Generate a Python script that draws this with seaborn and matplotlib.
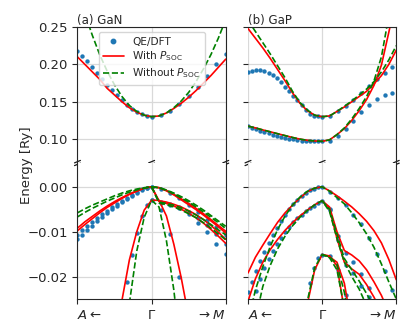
import numpy as np
import matplotlib.pyplot as plt
from matplotlib.lines import Line2D
import seaborn as sns

nan = np.nan

# path coordinate: -1 = towards A, 0 = Gamma, 1 = towards M
k_line = [-1.0, -0.9, -0.8, -0.7, -0.6, -0.5, -0.4, -0.3, -0.2, -0.1, 0.0,
          0.1, 0.2, 0.3, 0.4, 0.5, 0.6, 0.7, 0.8, 0.9, 1.0]
k_gan_dft = [-1.0, -0.933, -0.867, -0.8, -0.733, -0.667, -0.6, -0.533, -0.467, -0.4,
             -0.333, -0.267, -0.2, -0.133, -0.067, 0.0,
             0.125, 0.25, 0.375, 0.5, 0.625, 0.75, 0.875, 1.0]
k_gap_dft = [-1.0, -0.944, -0.889, -0.833, -0.778, -0.722, -0.667, -0.611, -0.556, -0.5,
             -0.444, -0.389, -0.333, -0.278, -0.222, -0.167, -0.111, -0.056, 0.0,
             0.105, 0.211, 0.316, 0.422, 0.527, 0.633, 0.738, 0.844, 0.949]

# ---------------- GaN (energies in Ry) ----------------
gan_dft_cb = [0.218, 0.211, 0.204, 0.196, 0.188, 0.180, 0.173, 0.166, 0.159, 0.153,
              0.146, 0.140, 0.136, 0.133, 0.1305, 0.130,
              0.1318, 0.1375, 0.147, 0.158, 0.170, 0.185, 0.200, 0.214]
gan_dft_hh = [-0.0107, -0.0097, -0.0088, -0.0079, -0.0070, -0.0061, -0.0053, -0.0045, -0.0038, -0.0031,
              -0.0024, -0.0018, -0.0012, -0.0006, -0.0002, 0.0,
              -0.0004, -0.0013, -0.0025, -0.0040, -0.0056, -0.0073, -0.0090, -0.0108]
gan_dft_lh = [-0.0117, -0.0107, -0.0097, -0.0087, -0.0077, -0.0068, -0.0059, -0.0050, -0.0042, -0.0034,
              -0.0027, -0.0020, -0.0013, -0.0007, -0.0002, 0.0,
              -0.0033, -0.0038, -0.0046, -0.0056, -0.0069, -0.0085, -0.0105, -0.0128]
gan_dft_lh2 = [nan, nan, nan, nan, nan, nan, nan, nan, nan, nan,
               nan, nan, nan, nan, nan, -0.0030,
               -0.0035, -0.0040, -0.0048, -0.0060, -0.0080, -0.0101, -0.0128, -0.0150]
gan_dft_ch = [nan, nan, nan, nan, nan, nan, nan, nan, nan, -0.0285,
              -0.0213, -0.0153, -0.0103, -0.0065, -0.0040, -0.0030,
              -0.0052, -0.0105, -0.0200, nan, nan, nan, nan, nan]

gan_red_cb = [0.210, 0.200, 0.190, 0.180, 0.168, 0.159, 0.150, 0.142, 0.136, 0.132, 0.130,
              0.131, 0.135, 0.141, 0.148, 0.156, 0.165, 0.175, 0.185, 0.196, 0.207]
gan_green_cb = [0.300, 0.268, 0.239, 0.213, 0.191, 0.1725, 0.157, 0.145, 0.137, 0.132, 0.130,
                0.131, 0.135, 0.142, 0.151, 0.1625, 0.177, 0.194, 0.213, 0.235, 0.260]
gan_red_hh1 = [-0.0092, -0.0078, -0.0066, -0.0054, -0.0043, -0.0033, -0.0024, -0.0016, -0.0009, -0.0003, 0.0,
               -0.0002, -0.0008, -0.0017, -0.0027, -0.0037, -0.0048, -0.0060, -0.0073, -0.0086, -0.0099]
gan_red_hh2 = [-0.0098, -0.0084, -0.0071, -0.0058, -0.0046, -0.0036, -0.0026, -0.0017, -0.0010, -0.0003, 0.0,
               -0.0002, -0.0009, -0.0018, -0.0029, -0.0040, -0.0051, -0.0063, -0.0076, -0.0089, -0.0103]
gan_red_lh1 = [nan, nan, nan, nan, nan, nan, nan, nan, nan, nan, 0.0,
               -0.0031, -0.0034, -0.0039, -0.0045, -0.0053, -0.0062, -0.0073, -0.0086, -0.0101, -0.0117]
gan_red_lh2 = [nan, nan, nan, nan, nan, nan, nan, nan, nan, nan, 0.0,
               -0.0033, -0.0037, -0.0043, -0.0050, -0.0059, -0.0069, -0.0081, -0.0095, -0.0110, -0.0126]
gan_red_ch = [nan, nan, nan, nan, nan, nan, -0.0253, -0.0163, -0.0100, -0.0052, -0.0030,
              -0.0030, -0.0065, -0.0128, -0.0203, -0.0290, nan, nan, nan, nan, nan]
gan_green_hh1 = [-0.0058, -0.0049, -0.0041, -0.0034, -0.0027, -0.0020, -0.0014, -0.0009, -0.0005, -0.0002, 0.0,
                 -0.0002, -0.0007, -0.0014, -0.0022, -0.0031, -0.0041, -0.0052, -0.0064, -0.0076, -0.0088]
gan_green_hh2 = [-0.0067, -0.0057, -0.0048, -0.0040, -0.0032, -0.0025, -0.0018, -0.0012, -0.0007, -0.0003, 0.0,
                 -0.0002, -0.0008, -0.0016, -0.0025, -0.0034, -0.0045, -0.0056, -0.0068, -0.0080, -0.0093]
gan_green_lh1 = [nan, nan, nan, nan, nan, nan, nan, nan, nan, nan, 0.0,
                 -0.0034, -0.0037, -0.0041, -0.0047, -0.0054, -0.0063, -0.0073, -0.0084, -0.0096, -0.0107]
gan_green_lh2 = [nan, nan, nan, nan, nan, nan, nan, nan, nan, nan, 0.0,
                 -0.0036, -0.0040, -0.0045, -0.0052, -0.0060, -0.0069, -0.0080, -0.0092, -0.0105, -0.0118]
gan_green_ch = [nan, nan, nan, nan, nan, nan, nan, -0.0260, -0.0143, -0.0068, -0.0030,
                -0.0045, -0.0120, -0.0230, -0.0380, nan, nan, nan, nan, nan, nan]

# ---------------- GaP ----------------
gap_dft_cb2 = [0.190, 0.1915, 0.1925, 0.1925, 0.191, 0.189, 0.186, 0.1815, 0.176, 0.170,
               0.164, 0.158, 0.152, 0.145, 0.139, 0.134, 0.1315, 0.1305, 0.130,
               0.1304, 0.137, 0.1447, 0.1527, 0.1616, 0.1713, 0.1807, 0.189, 0.197]
gap_dft_cb1 = [0.117, 0.115, 0.113, 0.111, 0.1095, 0.1075, 0.1056, 0.104, 0.1027, 0.1016,
               0.1005, 0.0995, 0.0985, 0.0978, 0.0974, 0.0971, 0.097, 0.097, 0.0968,
               0.098, 0.1038, 0.1136, 0.1238, 0.1358, 0.146, 0.154, 0.1593, 0.1616]
gap_dft_vb1 = [-0.0235, -0.0212, -0.0188, -0.0165, -0.0145, -0.0126, -0.0108, -0.0092, -0.0077, -0.0063,
               -0.0050, -0.0039, -0.0030, -0.0021, -0.0014, -0.0008, -0.0004, -0.0001, 0.0,
               -0.0011, -0.0025, -0.0040, -0.0062, -0.0084, -0.0114, -0.0150, -0.0187, -0.0230]
gap_dft_vb2 = [nan, -0.0262, -0.0232, -0.0206, -0.0182, -0.0161, -0.0143, -0.0127, -0.0113, -0.0100,
               -0.0089, -0.0079, -0.0070, -0.0062, -0.0055, -0.0048, -0.0042, -0.0036, -0.0031,
               -0.0049, -0.0110, -0.0148, -0.0168, -0.0195, -0.0225, nan, nan, nan]
gap_dft_vb2b = [nan, nan, nan, nan, nan, nan, nan, nan, nan, nan,
                nan, nan, nan, nan, nan, nan, nan, nan, nan,
                -0.0052, -0.0118, -0.0175, -0.0192, -0.0220, -0.0245, nan, nan, nan]
gap_dft_so = [nan, nan, nan, nan, nan, nan, nan, nan, nan, nan,
              nan, nan, nan, nan, nan, -0.0215, -0.0180, -0.0158, -0.0151,
              -0.0155, -0.0185, -0.0240, nan, nan, nan, nan, nan, nan]

gap_red_cb2 = [0.248, 0.235, 0.222, 0.208, 0.193, 0.178, 0.162, 0.148, 0.138, 0.132, 0.130,
               0.131, 0.137, 0.143, 0.150, 0.157, 0.164, 0.174, 0.185, 0.200, 0.219]
gap_green_cb2 = [0.259, 0.244, 0.229, 0.214, 0.198, 0.182, 0.164, 0.149, 0.139, 0.132, 0.130,
                 0.131, 0.137, 0.144, 0.151, 0.159, 0.167, 0.177, 0.190, 0.206, 0.225]
gap_red_cb1 = [0.1173, 0.1150, 0.1123, 0.1098, 0.1072, 0.1047, 0.1022, 0.1000, 0.0984, 0.0975, 0.0970,
               0.0990, 0.1060, 0.1140, 0.1250, 0.1380, 0.1530, 0.1720, 0.1990, 0.2430, 0.2900]
gap_green_cb1 = [0.1173, 0.1150, 0.1123, 0.1098, 0.1072, 0.1047, 0.1022, 0.1000, 0.0984, 0.0975, 0.0970,
                 0.0990, 0.1060, 0.1150, 0.1270, 0.1410, 0.1570, 0.1780, 0.2100, 0.2650, 0.3300]
gap_red_vb1 = [-0.0192, -0.0157, -0.0130, -0.0104, -0.0079, -0.0058, -0.0041, -0.0025, -0.0011, -0.0003, 0.0,
               -0.0009, -0.0020, -0.0032, -0.0045, -0.0060, -0.0077, -0.0098, -0.0125, -0.0162, -0.0207]
gap_green_vb1 = [-0.0300, -0.0230, -0.0178, -0.0133, -0.0095, -0.0065, -0.0041, -0.0023, -0.0010, -0.0003, 0.0,
                 -0.0010, -0.0024, -0.0038, -0.0058, -0.0080, -0.0105, -0.0135, -0.0172, -0.0212, -0.0250]
gap_red_vb2 = [-0.0255, -0.0205, -0.0168, -0.0140, -0.0117, -0.0097, -0.0080, -0.0065, -0.0052, -0.0040, -0.0031,
               -0.0045, -0.0100, -0.0142, -0.0152, -0.0165, -0.0185, -0.0212, -0.0242, -0.0280, -0.0320]
gap_red_vb2b = [nan, nan, nan, nan, nan, nan, nan, nan, nan, nan, -0.0031,
                -0.0050, -0.0115, -0.0168, -0.0183, -0.0195, -0.0218, -0.0246, -0.0280, nan, nan]
gap_green_vb2 = [-0.0360, -0.0295, -0.0222, -0.0175, -0.0138, -0.0110, -0.0087, -0.0068, -0.0053, -0.0040, -0.0031,
                 -0.0055, -0.0115, -0.0168, -0.0200, -0.0228, -0.0265, nan, nan, nan, nan]
gap_green_vb2b = [nan, nan, nan, nan, nan, nan, nan, nan, nan, nan, -0.0031,
                  -0.0050, -0.0105, -0.0160, -0.0185, -0.0210, -0.0238, -0.0268, nan, nan, nan]
gap_red_so = [nan, nan, nan, nan, nan, nan, nan, -0.0380, -0.0262, -0.0185, -0.0151,
              -0.0154, -0.0176, -0.0275, nan, nan, nan, nan, nan, nan, nan]
gap_red_so2 = [nan, nan, nan, nan, nan, nan, nan, nan, nan, nan, -0.0151,
               -0.0156, -0.0168, -0.0215, -0.0310, nan, nan, nan, nan, nan, nan]
gap_green_so = [nan, nan, nan, nan, nan, nan, nan, -0.0370, -0.0255, -0.0180, -0.0151,
                -0.0158, -0.0185, -0.0270, nan, nan, nan, nan, nan, nan, nan]
gap_green_so2 = [nan, nan, nan, nan, nan, nan, nan, nan, nan, nan, -0.0151,
                 -0.0156, -0.0172, -0.0235, -0.0340, nan, nan, nan, nan, nan, nan]

x_ticks = [-1, 0, 1]
x_labels = [r'$A\leftarrow$', r'$\Gamma$', r'$\rightarrow M$']
top_ticks = [0.10, 0.15, 0.20, 0.25]
bot_ticks = [-0.02, -0.01, 0.00]

panels = [
    dict(title='(a) GaN', x0=0.1867, k_dft=k_gan_dft,
         dft_top=[gan_dft_cb], dft_bot=[gan_dft_hh, gan_dft_lh, gan_dft_lh2, gan_dft_ch],
         red_top=[gan_red_cb], green_top=[gan_green_cb],
         red_bot=[gan_red_hh1, gan_red_hh2, gan_red_lh1, gan_red_lh2, gan_red_ch],
         green_bot=[gan_green_hh1, gan_green_hh2, gan_green_lh1, gan_green_lh2, gan_green_ch]),
    dict(title='(b) GaP', x0=0.5976, k_dft=k_gap_dft,
         dft_top=[gap_dft_cb2, gap_dft_cb1], dft_bot=[gap_dft_vb1, gap_dft_vb2, gap_dft_vb2b, gap_dft_so],
         red_top=[gap_red_cb2, gap_red_cb1], green_top=[gap_green_cb2, gap_green_cb1],
         red_bot=[gap_red_vb1, gap_red_vb2, gap_red_vb2b, gap_red_so, gap_red_so2],
         green_bot=[gap_green_vb1, gap_green_vb2, gap_green_vb2b, gap_green_so, gap_green_so2]),
]

sns.set_style("ticks")
plt.rcParams['font.family'] = ['DejaVu Sans']

blue = '#1f77b4'
fig = plt.figure(figsize=(4.15, 3.32), dpi=100)
w, h = 0.3572, 0.4096

for i, p in enumerate(panels):
    ax_t = fig.add_axes([p['x0'], 0.509, w, h])
    ax_b = fig.add_axes([p['x0'], 0.0994, w, h])
    for ax, dft, reds, greens in [(ax_t, p['dft_top'], p['red_top'], p['green_top']),
                                  (ax_b, p['dft_bot'], p['red_bot'], p['green_bot'])]:
        for band in dft:
            sns.scatterplot(x=p['k_dft'], y=band, ax=ax, color=blue, s=10, linewidth=0)
        for band in reds:
            sns.lineplot(x=k_line, y=band, ax=ax, color='red', lw=1.2, estimator=None, sort=False)
        for band in greens:
            sns.lineplot(x=k_line, y=band, ax=ax, color='green', lw=1.2, ls='--',
                         estimator=None, sort=False)
        ax.set_xlim(-1, 1)
        ax.set_xticks(x_ticks)
        ax.grid(True, color='0.85', lw=0.9)
        ax.tick_params(labelsize=9.5, length=3.5, width=0.8)
        for s in ax.spines.values():
            s.set_linewidth(0.8)
    ax_t.set_ylim(0.068, 0.25)
    ax_t.set_yticks(top_ticks)
    ax_b.set_ylim(-0.025, 0.0053)
    ax_b.set_yticks(bot_ticks)
    ax_t.spines['bottom'].set_visible(False)
    ax_b.spines['top'].set_visible(False)
    ax_t.tick_params(axis='x', bottom=False, labelbottom=False)
    ax_b.set_xticklabels(x_labels)
    tl = ax_b.get_xticklabels()
    tl[0].set_ha('left')
    tl[2].set_ha('right')
    ax_t.set_title(p['title'], loc='left', fontsize=8.5, pad=2.5)
    if i == 1:
        for ax in (ax_t, ax_b):
            ax.tick_params(labelleft=False)
            ax.spines['left'].set_visible(False)

    # break marks on the seam between the two panels
    for xv in x_ticks:
        xa = (xv + 1) / 2
        for off in (-0.01, 0.01):
            ax_t.plot([xa - 0.02, xa + 0.02], [off - 0.009, off + 0.009],
                      transform=ax_t.transAxes, color='0.1', lw=0.9, clip_on=False)

    if i == 0:
        handles = [Line2D([], [], marker='o', ls='', color=blue, ms=3.2),
                   Line2D([], [], color='red', lw=1.2),
                   Line2D([], [], color='green', lw=1.2, ls='--')]
        ax_t.legend(handles, ['QE/DFT', r'With $P_{\rm SOC}$', r'Without $P_{\rm SOC}$'],
                    loc='upper center', fontsize=7.6, handlelength=2.0,
                    borderpad=0.4, labelspacing=0.3)

fig.text(0.063, 0.503, 'Energy [Ry]', rotation=90, ha='center', va='center', fontsize=9.5)

fig.savefig('out.png', dpi=100)
